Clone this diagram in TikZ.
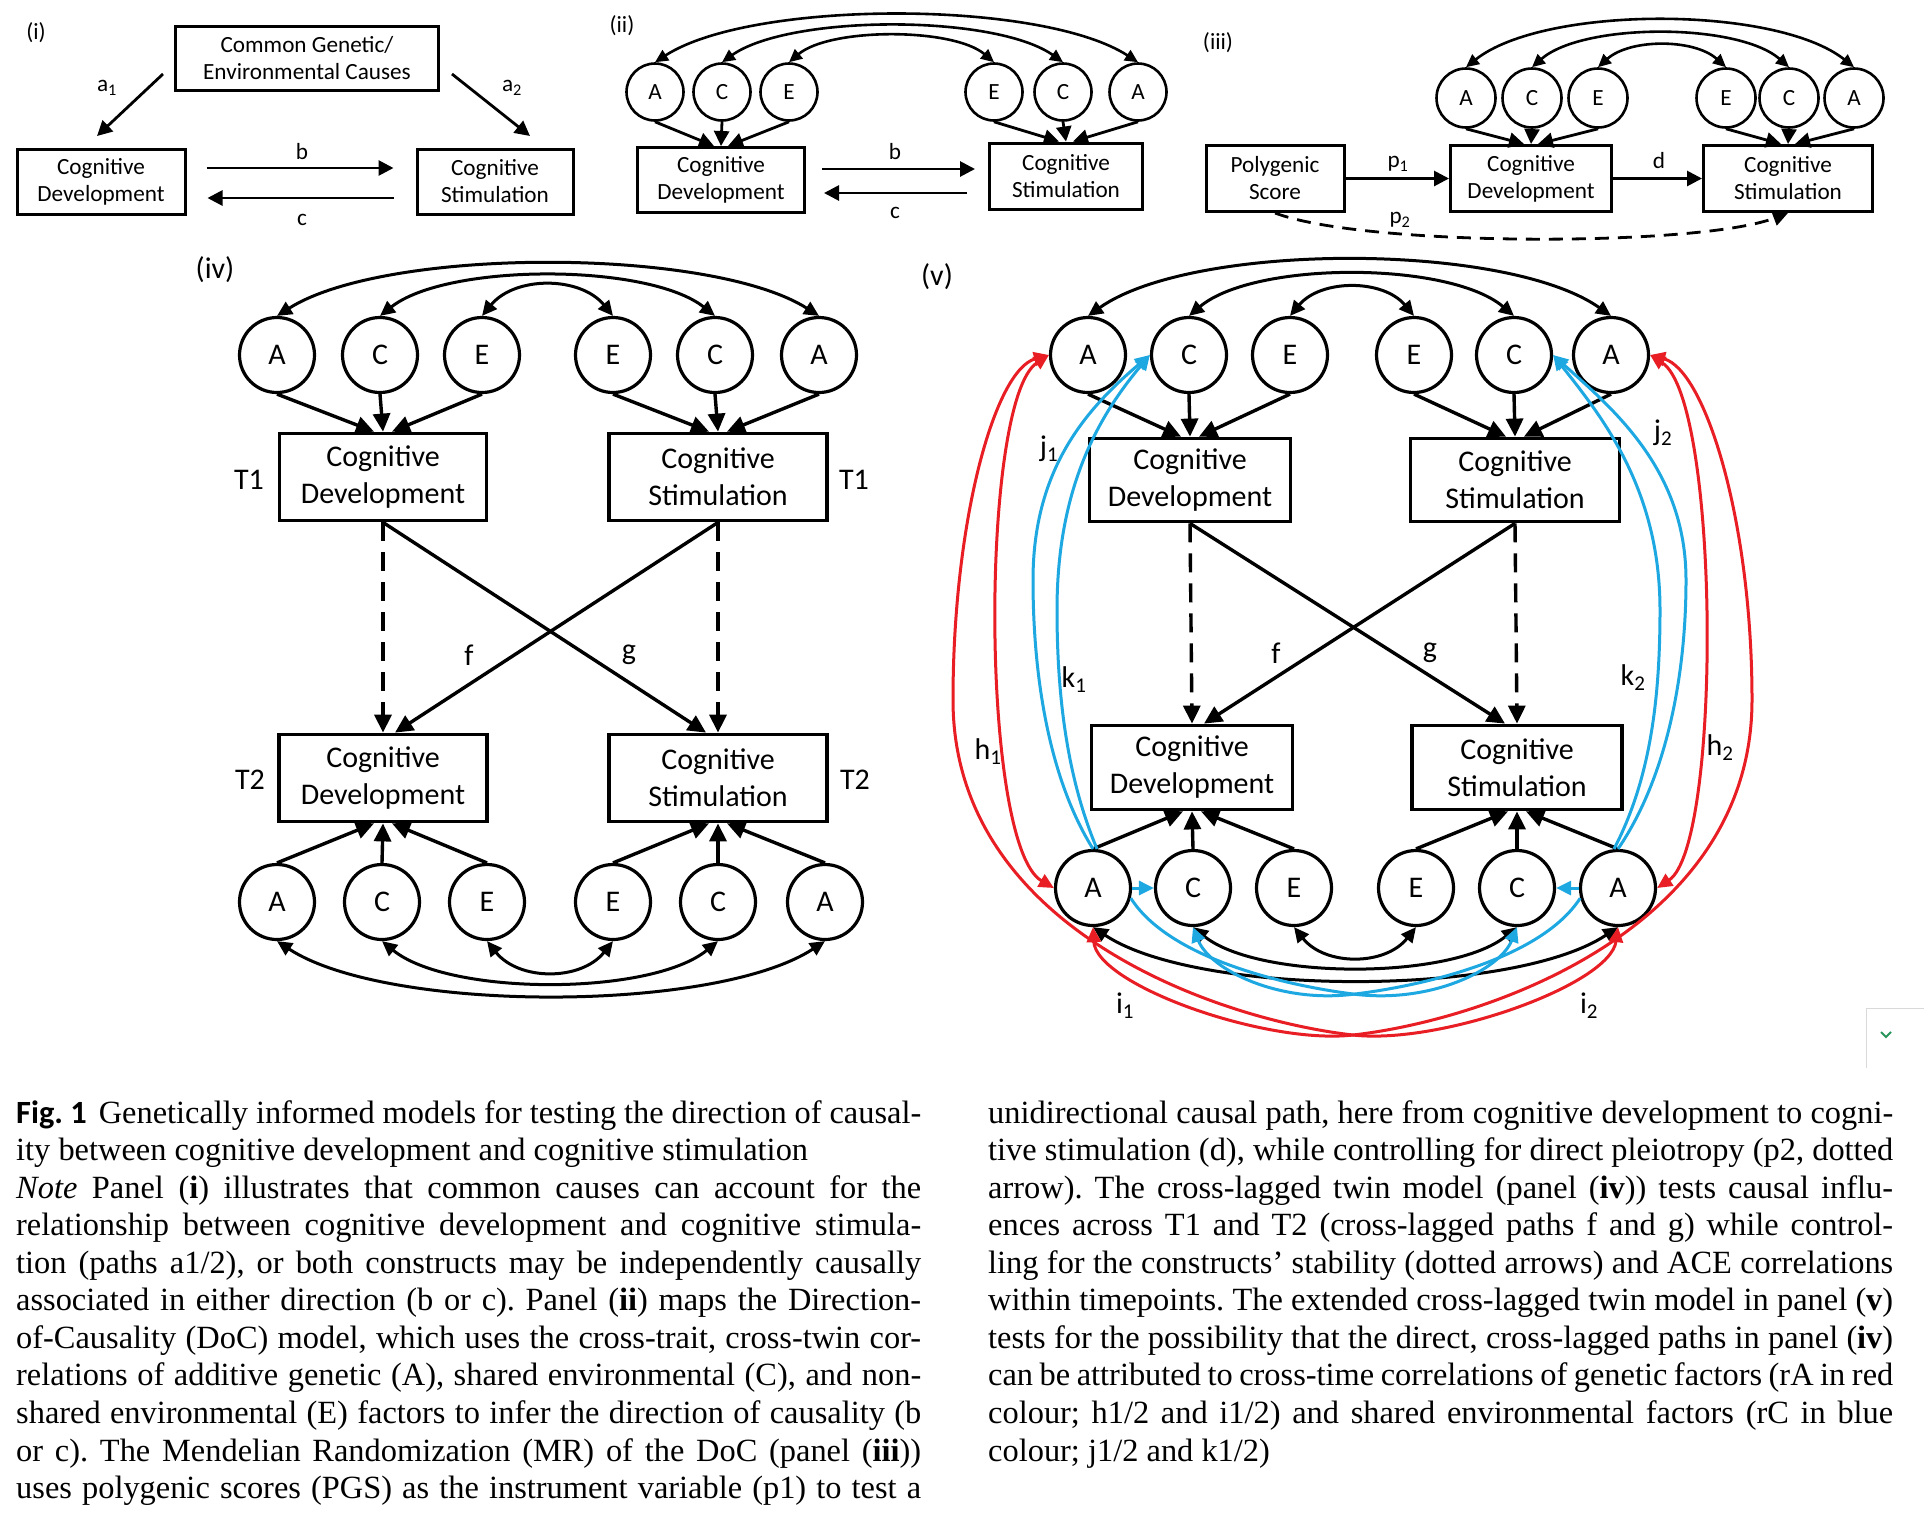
\documentclass[tikz,border=0pt]{standalone}
\usepackage{fontspec}
\setmainfont{Liberation Serif}
\newfontfamily\diag{Carlito}
\usetikzlibrary{arrows.meta,calc}
\definecolor{rd}{RGB}{232,30,36}
\definecolor{bl}{RGB}{30,168,226}
\definecolor{chev}{RGB}{40,150,90}
\frenchspacing
\tikzset{
 sm/.style={font=\diag\fontsize{23.2}{27}\selectfont},
 bg/.style={font=\diag\fontsize{30}{37}\selectfont},
 sbox/.style={draw, line width=3pt, align=center, inner sep=0pt, sm},
 bbox/.style={draw, line width=3.8pt, align=center, inner sep=0pt, bg},
 scirc/.style={draw, circle, line width=2.6pt, inner sep=0pt, minimum size=57pt, sm},
 bcirc/.style={draw, circle, line width=3.2pt, inner sep=0pt, minimum size=75pt, bg},
 sarr/.style={line width=2.8pt, -{Triangle[length=15pt,width=15pt]}},
 barr/.style={line width=3.4pt, -{Triangle[length=18pt,width=17pt]}},
 sarc/.style={line width=2.6pt, {Triangle[length=13pt,width=12pt]}-{Triangle[length=13pt,width=12pt]}},
 barc/.style={line width=3pt, {Triangle[length=15pt,width=14pt]}-{Triangle[length=15pt,width=14pt]}},
 redc/.style={draw=rd, line width=3pt, {Triangle[length=15pt,width=14pt]}-{Triangle[length=15pt,width=14pt]}},
 bluec/.style={draw=bl, line width=3pt, -{Triangle[length=15pt,width=14pt]}},
 dsh/.style={dash pattern=on 19pt off 11pt},
 lab/.style={inner sep=0pt},
 capline/.style={inner sep=0pt, anchor=base west, font=\fontsize{32.4}{37.55}\selectfont},
}
\begin{document}
\begin{tikzpicture}[x=1pt,y=-1pt]
\useasboundingbox (0,0) rectangle (1924,1524);
\fill[white] (0,0) rectangle (1924,1524);

% ---------------- Panel (i)
\node[lab,sm] (pi) at (36,33) {(i)};
\node[sbox, minimum width=263pt, minimum height=64pt] (cg) at (307,58) {Common Genetic/\\Environmental Causes};
\node[sbox, minimum width=168pt, minimum height=65pt] (cd1) at (101,181.5) {Cognitive\\Development};
\node[sbox, minimum width=156pt, minimum height=65pt] (cs1) at (495,181.5) {Cognitive\\Stimulation};
\coordinate (a1s) at (163,74); \coordinate (a1e) at (97,136);
\coordinate (a2s) at (452,74); \coordinate (a2e) at (530,136);
\draw[sarr] (a1s) -- (a1e);
\draw[sarr] (a2s) -- (a2e);
\node[lab,sm] (la1) at (107,88) {a\textsubscript{1}};
\node[lab,sm] (la2) at (512,88) {a\textsubscript{2}};
\draw[sarr, shorten <=20pt, shorten >=22pt] ([yshift=13.5pt]cd1.east) -- ([yshift=13.5pt]cs1.west);
\draw[sarr, shorten <=22pt, shorten >=21pt] ([yshift=-16.5pt]cs1.west) -- ([yshift=-16.5pt]cd1.east);
\node[lab,sm] (lb1) at (302,152) {b};
\node[lab,sm] (lc1) at (302,220) {c};

% ---------------- Panel (ii)
\node[lab,sm] (pii) at (622,26) {(ii)};
\node[scirc] (a2l) at (655,92) {A};
\node[scirc] (c2l) at (722,92) {C};
\node[scirc] (e2l) at (789,92) {E};
\node[scirc] (e2r) at (994,92) {E};
\node[scirc] (c2r) at (1063,92) {C};
\node[scirc] (a2r) at (1138,92) {A};
\node[sbox, minimum width=167pt, minimum height=65pt] (cd2) at (721,180) {Cognitive\\Development};
\node[sbox, minimum width=153pt, minimum height=66pt] (cs2) at (1066,176) {Cognitive\\Stimulation};
\draw[sarr] (a2l.south) -- ([xshift=-7pt]cd2.north);
\draw[sarr] (c2l.south) -- (cd2.north);
\draw[sarr] (e2l.south) -- ([xshift=7pt]cd2.north);
\draw[sarr] (e2r.south) -- ([xshift=-7pt]cs2.north);
\draw[sarr] (c2r.south) -- (cs2.north);
\draw[sarr] (a2r.south) -- ([xshift=7pt]cs2.north);
\draw[sarc] (a2l.north) .. controls ($(a2l.north)+(97,-62.7)$) and ($(a2r.north)+(-97,-62.7)$) .. (a2r.north);
\draw[sarc] (c2l.north) .. controls ($(c2l.north)+(68,-48)$) and ($(c2r.north)+(-68,-48)$) .. (c2r.north);
\draw[sarc] (e2l.north) .. controls ($(e2l.north)+(41,-34.7)$) and ($(e2r.north)+(-41,-34.7)$) .. (e2r.north);
\coordinate (b2y) at (0,169); \coordinate (c2y) at (0,193);
\draw[sarr, shorten <=16pt, shorten >=13pt] (cd2.east |- b2y) -- (cs2.west |- b2y);
\draw[sarr, shorten <=21pt, shorten >=18pt] (cs2.west |- c2y) -- (cd2.east |- c2y);
\node[lab,sm] (lb2) at (895,152) {b};
\node[lab,sm] (lc2) at (895,213) {c};

% ---------------- Panel (iii)
\node[lab,sm] (piii) at (1218,43) {(iii)};
\node[scirc, minimum size=59pt] (a3l) at (1466,98) {A};
\node[scirc, minimum size=59pt] (c3l) at (1532,98) {C};
\node[scirc, minimum size=59pt] (e3l) at (1598,98) {E};
\node[scirc, minimum size=59pt] (e3r) at (1726,98) {E};
\node[scirc, minimum size=59pt] (c3r) at (1789,98) {C};
\node[scirc, minimum size=59pt] (a3r) at (1854,98) {A};
\node[sbox, minimum width=138pt, minimum height=66pt] (ps) at (1275,178.5) {Polygenic\\Score};
\node[sbox, minimum width=161pt, minimum height=66pt] (cd3) at (1531,178.5) {Cognitive\\Development};
\node[sbox, minimum width=169pt, minimum height=66pt] (cs3) at (1788,178.5) {Cognitive\\Stimulation};
\draw[sarr] (a3l.south) -- ([xshift=-7pt]cd3.north);
\draw[sarr] (c3l.south) -- (cd3.north);
\draw[sarr] (e3l.south) -- ([xshift=7pt]cd3.north);
\draw[sarr] (e3r.south) -- ([xshift=-7pt]cs3.north);
\draw[sarr] (c3r.south) -- (cs3.north);
\draw[sarr] (a3r.south) -- ([xshift=7pt]cs3.north);
\draw[sarc] (a3l.north) .. controls ($(a3l.north)+(78,-62)$) and ($(a3r.north)+(-78,-62)$) .. (a3r.north);
\draw[sarc] (c3l.north) .. controls ($(c3l.north)+(51,-44.7)$) and ($(c3r.north)+(-51,-44.7)$) .. (c3r.north);
\draw[sarc] (e3l.north) .. controls ($(e3l.north)+(32,-28.7)$) and ($(e3r.north)+(-32,-28.7)$) .. (e3r.north);
\draw[sarr] (ps) -- (cd3);
\draw[sarr] (cd3) -- (cs3);
\draw[sarr, dash pattern=on 14pt off 9pt] (ps.south) .. controls ($(ps.south)+(90,34)$) and ($(cs3.south)+(-90,34)$) .. (cs3.south);
\node[lab,sm] (lp1) at (1398,164) {p\textsubscript{1}};
\node[lab,sm] (ld) at (1659,161) {d};
\node[lab,sm] (lp2) at (1400,220) {p\textsubscript{2}};

% ---------------- Panel (iv)
\node[lab,bg] (piv) at (215,270) {(iv)};
\node[bcirc] (ta1) at (277,355) {A};
\node[bcirc] (tc1) at (380,355) {C};
\node[bcirc] (te1) at (482,355) {E};
\node[bcirc] (te2) at (613,355) {E};
\node[bcirc] (tc2) at (715,355) {C};
\node[bcirc] (ta2) at (819,355) {A};
\node[bbox, minimum width=207pt, minimum height=87pt] (t1d) at (383,477) {Cognitive\\Development};
\node[bbox, minimum width=218pt, minimum height=87pt] (t1s) at (718,477) {Cognitive\\Stimulation};
\node[bbox, minimum width=208pt, minimum height=87pt] (t2d) at (383,778) {Cognitive\\Development};
\node[bbox, minimum width=218pt, minimum height=87pt] (t2s) at (718,778) {Cognitive\\Stimulation};
\node[bcirc] (ba1) at (277,902) {A};
\node[bcirc] (bc1) at (382,902) {C};
\node[bcirc] (be1) at (487,902) {E};
\node[bcirc] (be2) at (613,902) {E};
\node[bcirc] (bc2) at (718,902) {C};
\node[bcirc] (ba2) at (825,902) {A};
\node[lab,bg] (t1l) at (249,480) {T1};
\node[lab,bg] (t1r) at (854,480) {T1};
\node[lab,bg] (t2l) at (250,780) {T2};
\node[lab,bg] (t2r) at (855,780) {T2};
\draw[barr] (ta1.south) -- ([xshift=-9pt]t1d.north);
\draw[barr] (tc1.south) -- (t1d.north);
\draw[barr] (te1.south) -- ([xshift=9pt]t1d.north);
\draw[barr] (te2.south) -- ([xshift=-9pt]t1s.north);
\draw[barr] (tc2.south) -- (t1s.north);
\draw[barr] (ta2.south) -- ([xshift=9pt]t1s.north);
\draw[barr] (ba1.north) -- ([xshift=-9pt]t2d.south);
\draw[barr] (bc1.north) -- (t2d.south);
\draw[barr] (be1.north) -- ([xshift=9pt]t2d.south);
\draw[barr] (be2.north) -- ([xshift=-9pt]t2s.south);
\draw[barr] (bc2.north) -- (t2s.south);
\draw[barr] (ba2.north) -- ([xshift=9pt]t2s.south);
\draw[barr, dsh] (t1d.south) -- (t2d.north);
\draw[barr, dsh] (t1s.south) -- (t2s.north);
\draw[barr] (t1d.south) -- ([xshift=-12pt]t2s.north);
\draw[barr] (t1s.south) -- ([xshift=12pt]t2d.north);
\node[lab,bg] (lf4) at (469,655) {f};
\node[lab,bg] (lg4) at (629,655) {g};
\draw[barc] (ta1.north) .. controls ($(ta1.north)+(109,-69)$) and ($(ta2.north)+(-109,-69)$) .. (ta2.north);
\draw[barc] (tc1.north) .. controls ($(tc1.north)+(67,-53)$) and ($(tc2.north)+(-67,-53)$) .. (tc2.north);
\draw[barc] (te1.north) .. controls ($(te1.north)+(33,-40)$) and ($(te2.north)+(-33,-40)$) .. (te2.north);
\draw[barc] (ba1.south) .. controls ($(ba1.south)+(110,72)$) and ($(ba2.south)+(-110,72)$) .. (ba2.south);
\draw[barc] (bc1.south) .. controls ($(bc1.south)+(67,55)$) and ($(bc2.south)+(-67,55)$) .. (bc2.south);
\draw[barc] (be1.south) .. controls ($(be1.south)+(32,40)$) and ($(be2.south)+(-32,40)$) .. (be2.south);

% ---------------- Panel (v)
\node[lab,bg] (pv) at (937,277) {(v)};
\node[bcirc] (va1) at (1088,355) {A};
\node[bcirc] (vc1) at (1189,355) {C};
\node[bcirc] (ve1) at (1290,355) {E};
\node[bcirc] (ve2) at (1414,355) {E};
\node[bcirc] (vc2) at (1514,355) {C};
\node[bcirc] (va2) at (1611,355) {A};
\node[bbox, minimum width=201pt, minimum height=83pt] (v1d) at (1190,480) {Cognitive\\Development};
\node[bbox, minimum width=209pt, minimum height=83pt] (v1s) at (1515,480) {Cognitive\\Stimulation};
\node[bbox, minimum width=201pt, minimum height=84pt] (v2d) at (1192,767.5) {Cognitive\\Development};
\node[bbox, minimum width=210pt, minimum height=84pt] (v2s) at (1517,767.5) {Cognitive\\Stimulation};
\node[bcirc] (wa1) at (1093,888) {A};
\node[bcirc] (wc1) at (1193,888) {C};
\node[bcirc] (we1) at (1294,888) {E};
\node[bcirc] (we2) at (1416,888) {E};
\node[bcirc] (wc2) at (1517,888) {C};
\node[bcirc] (wa2) at (1618,888) {A};
\draw[barr] (va1.south) -- ([xshift=-9pt]v1d.north);
\draw[barr] (vc1.south) -- (v1d.north);
\draw[barr] (ve1.south) -- ([xshift=9pt]v1d.north);
\draw[barr] (ve2.south) -- ([xshift=-9pt]v1s.north);
\draw[barr] (vc2.south) -- (v1s.north);
\draw[barr] (va2.south) -- ([xshift=9pt]v1s.north);
\draw[barr] (wa1.north) -- ([xshift=-9pt]v2d.south);
\draw[barr] (wc1.north) -- (v2d.south);
\draw[barr] (we1.north) -- ([xshift=9pt]v2d.south);
\draw[barr] (we2.north) -- ([xshift=-9pt]v2s.south);
\draw[barr] (wc2.north) -- (v2s.south);
\draw[barr] (wa2.north) -- ([xshift=9pt]v2s.south);
\draw[barr, dsh] (v1d.south) -- (v2d.north);
\draw[barr, dsh] (v1s.south) -- (v2s.north);
\draw[barr] (v1d.south) -- ([xshift=-12pt]v2s.north);
\draw[barr] (v1s.south) -- ([xshift=12pt]v2d.north);
\node[lab,bg] (lf5) at (1276,653) {f};
\node[lab,bg] (lg5) at (1430,653) {g};
\draw[barc] (va1.north) .. controls ($(va1.north)+(105,-74)$) and ($(va2.north)+(-105,-74)$) .. (va2.north);
\draw[barc] (vc1.north) .. controls ($(vc1.north)+(65,-55)$) and ($(vc2.north)+(-65,-55)$) .. (vc2.north);
\draw[barc] (ve1.north) .. controls ($(ve1.north)+(31,-37)$) and ($(ve2.north)+(-31,-37)$) .. (ve2.north);
\draw[barc] (wa1.south) .. controls ($(wa1.south)+(105,70)$) and ($(wa2.south)+(-105,70)$) .. (wa2.south);
\draw[barc] (wc1.south) .. controls ($(wc1.south)+(65,53)$) and ($(wc2.south)+(-65,53)$) .. (wc2.south);
\draw[barc] (we1.south) .. controls ($(we1.south)+(31,39)$) and ($(we2.south)+(-31,39)$) .. (we2.south);
% red
\draw[redc] (va1.west) .. controls (980,400) and (980,845) .. (wa1.west);
\draw[redc] (va2.east) .. controls (1720,400) and (1722,845) .. (wa2.east);
\draw[redc] (va1.west) .. controls (995,370) and (953,520) .. (953,700) .. controls (953,930) and (1220,1020) .. (1353,1035) .. controls (1440,1045) and (1610,985) .. (wa2.south);
\draw[redc] (va2.east) .. controls (1705,370) and (1752,520) .. (1752,700) .. controls (1752,930) and (1486,1020) .. (1353,1035) .. controls (1266,1045) and (1096,985) .. (wa1.south);
% blue
\draw[bluec] (wa1.north) .. controls (1050,780) and (1033,680) .. (1033,580) .. controls (1033,470) and (1085,410) .. (vc1.west);
\draw[bluec] ([xshift=4pt]wa1.north) .. controls (1068,780) and (1057,700) .. (1057,610) .. controls (1057,490) and (1097,418) .. (vc1.west);
\draw[bluec] (wa2.north) .. controls (1665,780) and (1686,680) .. (1686,580) .. controls (1686,470) and (1614,410) .. (vc2.east);
\draw[bluec] ([xshift=-4pt]wa2.north) .. controls (1650,780) and (1660,700) .. (1660,610) .. controls (1660,490) and (1603,418) .. (vc2.east);
\draw[bluec] (wa1.-15) .. controls (1170,960) and (1290,986) .. (1353,994) .. controls (1430,1004) and (1500,970) .. (wc2.south);
\draw[bluec] (wa2.195) .. controls (1540,960) and (1420,986) .. (1355,994) .. controls (1280,1004) and (1210,970) .. (wc1.south);
\draw[bluec] (wa1) -- (wc1);
\draw[bluec] (wa2) -- (wc2);
\node[lab,bg] (lj1) at (1049,449) {j\textsubscript{1}};
\node[lab,bg] (lk1) at (1074,680) {k\textsubscript{1}};
\node[lab,bg] (lh1) at (988,752) {h\textsubscript{1}};
\node[lab,bg] (li1) at (1125,1006) {i\textsubscript{1}};
\node[lab,bg] (lj2) at (1663,433) {j\textsubscript{2}};
\node[lab,bg] (lk2) at (1633,678) {k\textsubscript{2}};
\node[lab,bg] (lh2) at (1720,748) {h\textsubscript{2}};
\node[lab,bg] (li2) at (1589,1006) {i\textsubscript{2}};

% UI artefact
\draw[gray!30, line width=1pt] (1866,1068) -- (1866,1008) -- (1924,1008);
\draw[chev, line width=2pt] (1881,1032) -- (1886,1037) -- (1891,1032);

% ---------------- Caption
\node[capline] (l1) at (16,1123) {\makebox[905pt][s]{{\diag\bfseries\mbox{Fig. 1}}\hspace{12pt}Genetically informed models for testing the direction of causal-}};
\node[capline] (l2) at (16,1160.6) {ity between cognitive development and cognitive stimulation};
\node[capline] (l3) at (16,1198.1) {\makebox[905pt][s]{\textit{Note} Panel (\textbf{i}) illustrates that common causes can account for the}};
\node[capline] (l4) at (16,1235.7) {\makebox[905pt][s]{relationship between cognitive development and cognitive stimula-}};
\node[capline] (l5) at (16,1273.2) {\makebox[905pt][s]{tion (paths a1/2), or both constructs may be independently causally}};
\node[capline] (l6) at (16,1310.8) {\makebox[905pt][s]{associated in either direction (b or c). Panel (\textbf{ii}) maps the Direction-}};
\node[capline] (l7) at (16,1348.3) {\makebox[905pt][s]{of-Causality (DoC) model, which uses the cross-trait, cross-twin cor-}};
\node[capline] (l8) at (16,1385.9) {\makebox[905pt][s]{relations of additive genetic (A), shared environmental (C), and non-}};
\node[capline] (l9) at (16,1423.4) {\makebox[905pt][s]{shared environmental (E) factors to infer the direction of causality (b}};
\node[capline] (l10) at (16,1461) {\makebox[905pt][s]{or c). The Mendelian Randomization (MR) of the DoC (panel (\textbf{iii}))}};
\node[capline] (l11) at (16,1498.5) {\makebox[905pt][s]{uses polygenic scores (PGS) as the instrument variable (p1) to test a}};
\node[capline] (r1) at (988,1123) {\makebox[905pt][s]{unidirectional causal path, here from cognitive development to cogni-}};
\node[capline] (r2) at (988,1160.6) {\makebox[905pt][s]{tive stimulation (d), while controlling for direct pleiotropy (p2, dotted}};
\node[capline] (r3) at (988,1198.1) {\makebox[905pt][s]{arrow). The cross-lagged twin model (panel (\textbf{iv})) tests causal influ-}};
\node[capline] (r4) at (988,1235.7) {\makebox[905pt][s]{ences across T1 and T2 (cross-lagged paths f and g) while control-}};
\node[capline] (r5) at (988,1273.2) {\makebox[905pt][s]{ling for the constructs’ stability (dotted arrows) and ACE correlations}};
\node[capline] (r6) at (988,1310.8) {\makebox[905pt][s]{within timepoints. The extended cross-lagged twin model in panel (\textbf{v})}};
\node[capline] (r7) at (988,1348.3) {\makebox[905pt][s]{tests for the possibility that the direct, cross-lagged paths in panel (\textbf{iv})}};
\node[capline] (r8) at (988,1385.9) {\makebox[905pt][s]{can be attributed to cross-time correlations of genetic factors (rA in red}};
\node[capline] (r9) at (988,1423.4) {\makebox[905pt][s]{colour; h1/2 and i1/2) and shared environmental factors (rC in blue}};
\node[capline] (r10) at (988,1461) {colour; j1/2 and k1/2)};
\end{tikzpicture}
\end{document}
